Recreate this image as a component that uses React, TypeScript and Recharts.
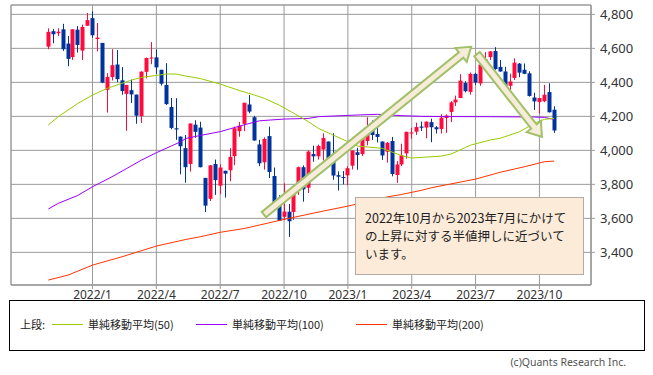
import {
  ComposedChart,
  Bar,
  Line,
  XAxis,
  YAxis,
  CartesianGrid,
  ReferenceLine,
  ReferenceArea,
} from 'recharts';

// weekly candles, Monday 2021/11/1 .. 2023/10/23 (index = week number)
const opens = [
  4610, 4701, 4689, 4712, 4628, 4548, 4710, 4587, 4733,
  4778, 4655, 4632, 4356, 4431, 4505, 4412, 4332, 4354, 4328, 4202, 4462, 4541,
  4547, 4474, 4385, 4255, 4130, 4081, 4013, 3920, 4151, 4134, 3838, 3715, 3920,
  3792, 3880, 3883, 3966, 4113, 4156, 4270, 4195, 4035, 3930, 4084, 3849, 3682,
  3609, 3639, 3638, 3763, 3901, 3780, 3978, 3965, 4005, 4052, 3940, 3854, 3843,
  3853, 3910, 3989, 3978, 4055, 4119, 4096, 4052, 3992, 4055, 3855, 3917, 3982,
  4102, 4110, 4140, 4134, 4166, 4136, 4126, 4190, 4226, 4282, 4308, 4396, 4344,
  4450, 4394, 4508, 4548, 4584, 4491, 4464, 4380, 4426, 4510, 4474, 4453, 4311,
  4284, 4289, 4343, 4239,
];
const highs = [
  4718, 4714, 4718, 4744, 4672, 4713, 4731, 4740, 4808,
  4818, 4749, 4632, 4453, 4595, 4590, 4490, 4385, 4416, 4328, 4465, 4546, 4637,
  4593, 4474, 4513, 4308, 4307, 4081, 4090, 4159, 4177, 4168, 3838, 3913, 3946,
  3918, 3880, 4013, 4140, 4167, 4280, 4325, 4203, 4062, 4076, 4139, 3899, 3736,
  3806, 3685, 3762, 3905, 3912, 4000, 4028, 4034, 4100, 4052, 4101, 3876, 3878,
  3906, 4000, 4015, 4095, 4195, 4176, 4195, 4052, 4049, 4079, 3937, 4039, 4110,
  4133, 4163, 4169, 4170, 4186, 4143, 4213, 4212, 4290, 4322, 4448, 4407, 4458,
  4456, 4527, 4578, 4583, 4607, 4532, 4491, 4451, 4541, 4514, 4511, 4465, 4339,
  4309, 4385, 4394, 4259,
];
const lows = [
  4595, 4630, 4672, 4585, 4495, 4532, 4575, 4531, 4733,
  4662, 4582, 4395, 4222, 4411, 4401, 4327, 4115, 4279, 4157, 4161, 4424, 4507,
  4450, 4381, 4267, 4124, 4062, 3859, 3810, 3875, 4074, 3900, 3637, 3702, 3738,
  3742, 3722, 3818, 3913, 4080, 4113, 4218, 4057, 3907, 3887, 3837, 3647, 3584,
  3589, 3491, 3590, 3738, 3698, 3749, 3933, 3946, 3940, 3918, 3827, 3764, 3800,
  3795, 3888, 3886, 3966, 4030, 4061, 4047, 3944, 3928, 3847, 3809, 3908, 3951,
  4069, 4091, 4114, 4071, 4048, 4099, 4099, 4103, 4166, 4261, 4307, 4341, 4328,
  4384, 4380, 4489, 4531, 4474, 4462, 4336, 4356, 4414, 4430, 4448, 4316, 4238,
  4216, 4283, 4223, 4103,
];
const closes = [
  4697, 4683, 4698, 4595, 4538, 4712, 4620, 4726, 4766,
  4677, 4663, 4398, 4432, 4501, 4419, 4349, 4385, 4329, 4204, 4463, 4543, 4546,
  4488, 4392, 4272, 4132, 4123, 4024, 3901, 4158, 4109, 3901, 3675, 3912, 3825,
  3899, 3863, 3962, 4130, 4145, 4280, 4228, 4058, 3924, 4067, 3873, 3693, 3586,
  3640, 3583, 3752, 3901, 3771, 3993, 3965, 4026, 4072, 3934, 3852, 3845, 3840,
  3895, 3999, 3973, 4071, 4136, 4090, 4079, 3970, 4045, 3861, 3917, 3971, 4109,
  4105, 4137, 4133, 4169, 4136, 4124, 4192, 4205, 4282, 4299, 4410, 4348, 4450,
  4399, 4505, 4536, 4582, 4478, 4464, 4369, 4405, 4516, 4457, 4450, 4320, 4288,
  4308, 4327, 4224, 4117,
];

// moving averages: [week index, value]
const ma50 = [
  [0, 4150], [2, 4198], [4, 4237], [6, 4276], [9, 4325], [12, 4365], [15, 4394],
  [17, 4414], [19, 4429], [22, 4441], [24, 4449], [26, 4449], [28, 4437], [31, 4422],
  [35, 4390], [39, 4351], [42, 4325], [44, 4306], [47, 4266], [50, 4218], [53, 4168],
  [55, 4129], [58, 4090], [61, 4051], [63, 4025], [68, 4012], [72, 3968], [74, 3955],
  [80, 3966], [82, 3978], [85, 4018], [86, 4031], [90, 4061], [92, 4071], [96, 4110],
  [99, 4160], [101, 4182], [103, 4188],
];
const ma100 = [
  [0, 3655], [2, 3688], [6, 3735], [9, 3786], [13, 3845], [16, 3894], [19, 3943],
  [22, 3986], [25, 4025], [27, 4051], [28, 4070], [31, 4088], [35, 4110], [39, 4143],
  [43, 4174], [48, 4184], [53, 4188], [55, 4198], [63, 4208], [67, 4212], [72, 4204],
  [76, 4200], [80, 4199], [90, 4198], [99, 4196], [101, 4194], [103, 4182],
];
const ma200 = [
  [0, 3237], [4, 3266], [9, 3325], [15, 3374], [22, 3437], [28, 3476], [31, 3492],
  [35, 3518], [40, 3541], [48, 3594], [56, 3643], [61, 3672], [69, 3726], [72, 3741],
  [76, 3765], [78, 3780], [87, 3831], [92, 3871], [97, 3904], [101, 3933], [103, 3937],
];

const quarterWeeks = [9, 22, 35, 48, 61, 74, 87, 100];
const quarterLabels = ['2022/1', '2022/4', '2022/7', '2022/10', '2023/1', '2023/4', '2023/7', '2023/10'];
const priceTicks = [3400, 3600, 3800, 4000, 4200, 4400, 4600, 4800];

// arrows: [week, price] start -> end
const upArrow = [[43.9, 3622], [86.1, 4609]];
const downArrow = [[87.3, 4566], [100.5, 4080]];

const X_DOMAIN = [-7.6, 110.5];
const Y_DOMAIN = [3208, 4855];

const candles = opens.map((o, i) => ({ i, open: o, high: highs[i], low: lows[i], close: closes[i] }));
const toLine = (pts: number[][]) => pts.map(([i, v]) => ({ i, v }));

const UP = '#ff0a3c';
const DOWN = '#00339c';
const GRID = '#9a9a9a';

function Candle(props: any) {
  const { x, y, width, height, payload } = props;
  if (!payload) return null;
  const { open, close, high, low } = payload;
  const k = high > low ? height / (high - low) : 0;
  const yo = y + (high - open) * k;
  const yc = y + (high - close) * k;
  const top = Math.min(yo, yc);
  const h = Math.max(1, Math.abs(yo - yc));
  const color = close >= open ? UP : DOWN;
  const cx = Math.round(x + width / 2);
  return (
    <g>
      <line x1={cx + 0.5} x2={cx + 0.5} y1={y} y2={y + height} stroke={color} strokeWidth={1} />
      <rect x={cx - 1.5} y={top} width={4} height={h} fill={color} />
    </g>
  );
}

function Arrow(props: any) {
  const { x1, y1, x2, y2 } = props;
  if ([x1, y1, x2, y2].some((v) => v == null || isNaN(v))) return null;
  const dx = x2 - x1;
  const dy = y2 - y1;
  const len = Math.hypot(dx, dy);
  const ux = dx / len;
  const uy = dy / len;
  const nx = -uy;
  const ny = ux;
  const shaft = 3.5;
  const headW = 9;
  const headL = 13;
  const bx = x2 - ux * headL;
  const by = y2 - uy * headL;
  const pts = [
    [x1 + nx * shaft, y1 + ny * shaft],
    [bx + nx * shaft, by + ny * shaft],
    [bx + nx * headW, by + ny * headW],
    [x2, y2],
    [bx - nx * headW, by - ny * headW],
    [bx - nx * shaft, by - ny * shaft],
    [x1 - nx * shaft, y1 - ny * shaft],
  ];
  return (
    <polygon
      points={pts.map((p) => p.join(',')).join(' ')}
      fill="#f6ecd9"
      stroke="#a2c06a"
      strokeWidth={2}
      strokeLinejoin="miter"
    />
  );
}

const legendItems = [
  { label: '単純移動平均(50)', color: '#99cc00' },
  { label: '単純移動平均(100)', color: '#9900ff' },
  { label: '単純移動平均(200)', color: '#ff3300' },
];

export default function App() {
  const tickFont = { fill: '#333', fontSize: 12, fontFamily: 'Noto Sans, sans-serif' };
  return (
    <div
      style={{
        position: 'absolute',
        left: 0,
        top: 0,
        width: 653,
        height: 375,
        background: '#fff',
        fontFamily: '"Noto Sans CJK JP", "Noto Sans", sans-serif',
      }}
    >
      <ComposedChart
        width={653}
        height={305}
        data={candles}
        margin={{ top: 5, right: 0, left: 11, bottom: 0 }}
      >
        <CartesianGrid stroke={GRID} strokeWidth={1} />
        <XAxis
          type="number"
          dataKey="i"
          domain={X_DOMAIN}
          allowDataOverflow
          ticks={quarterWeeks}
          interval={0}
          tickFormatter={(v) => quarterLabels[quarterWeeks.indexOf(v)] ?? ''}
          height={20}
          tickSize={4}
          tickMargin={1}
          axisLine={{ stroke: GRID }}
          tickLine={{ stroke: GRID }}
          tick={tickFont}
        />
        <YAxis
          orientation="right"
          type="number"
          domain={Y_DOMAIN}
          allowDataOverflow
          ticks={priceTicks}
          interval={0}
          tickFormatter={(v) => v.toLocaleString('en-US')}
          width={62}
          tickSize={4}
          tickMargin={5}
          axisLine={{ stroke: GRID }}
          tickLine={{ stroke: GRID }}
          tick={{ ...tickFont, fontSize: 13 }}
        />
        <ReferenceArea
          x1={X_DOMAIN[0]}
          x2={X_DOMAIN[1]}
          y1={Y_DOMAIN[0]}
          y2={Y_DOMAIN[1]}
          fill="none"
          stroke={GRID}
          ifOverflow="visible"
        />
        <Line data={toLine(ma200)} dataKey="v" stroke="#ff3300" strokeWidth={1} dot={false} isAnimationActive={false} />
        <Line data={toLine(ma100)} dataKey="v" stroke="#9900ff" strokeWidth={1} dot={false} isAnimationActive={false} />
        <Line data={toLine(ma50)} dataKey="v" stroke="#99cc00" strokeWidth={1} dot={false} isAnimationActive={false} />
        <Bar
          dataKey={(d: any) => [d.low, d.high]}
          barSize={4}
          shape={<Candle />}
          isAnimationActive={false}
        />
        <ReferenceLine
          segment={[
            { x: upArrow[0][0], y: upArrow[0][1] },
            { x: upArrow[1][0], y: upArrow[1][1] },
          ]}
          shape={(p: any) => <Arrow {...p} />}
          ifOverflow="visible"
        />
        <ReferenceLine
          segment={[
            { x: downArrow[0][0], y: downArrow[0][1] },
            { x: downArrow[1][0], y: downArrow[1][1] },
          ]}
          shape={(p: any) => <Arrow {...p} />}
          ifOverflow="visible"
        />
      </ComposedChart>

      {/* comment box */}
      <div
        style={{
          position: 'absolute',
          left: 355,
          top: 197,
          width: 229,
          height: 78,
          boxSizing: 'border-box',
          background: '#fcebd9',
          border: '1px solid #b4aca4',
          padding: '11px 0 0 9px',
          fontSize: 12.5,
          lineHeight: '18px',
          color: '#222',
          whiteSpace: 'nowrap',
        }}
      >
        <div>2022年10月から2023年7月にかけて</div>
        <div>の上昇に対する半値押しに近づいて</div>
        <div>います。</div>
      </div>

      {/* legend */}
      <div
        style={{
          position: 'absolute',
          left: 9,
          top: 300,
          width: 636,
          height: 51,
          boxSizing: 'border-box',
          border: '1px solid #000',
          fontSize: 11,
          color: '#222',
        }}
      >
        <span style={{ position: 'absolute', left: 10, top: 15 }}>上段:</span>
        {legendItems.map((it, k) => (
          <div key={it.label} style={{ position: 'absolute', left: [42, 186, 346][k], top: 15, display: 'flex', alignItems: 'center' }}>
            <div style={{ width: 31, height: 1, background: it.color, marginRight: 5 }} />
            <span>{it.label}</span>
          </div>
        ))}
      </div>

      <div
        style={{
          position: 'absolute',
          right: 27,
          top: 355,
          fontSize: 10.5,
          color: '#555',
          fontFamily: '"Noto Sans", sans-serif',
        }}
      >
        (c)Quants Research Inc.
      </div>
    </div>
  );
}
